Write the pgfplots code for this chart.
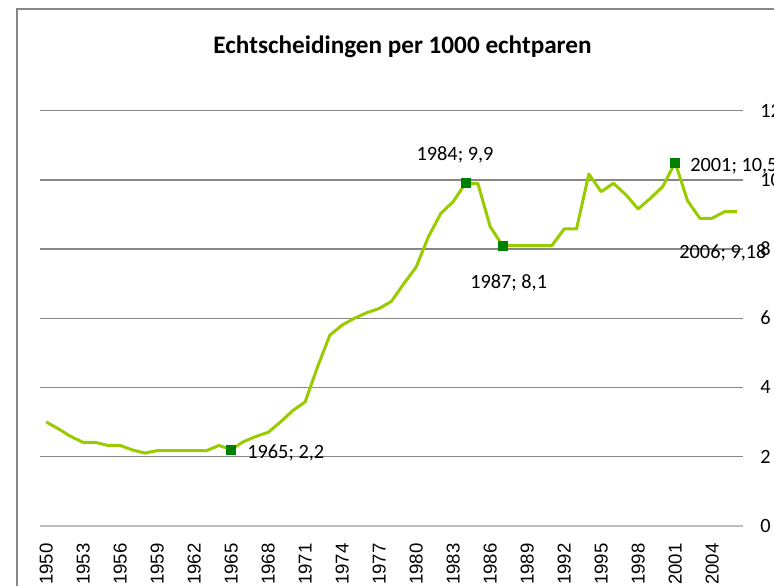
\documentclass[border=0pt]{standalone}
\usepackage{pgfplots}
\pgfplotsset{compat=1.18}
\usepackage{fontspec}
\setmainfont{Carlito}
\newfontfamily\arialfont{Liberation Sans}
\definecolor{linegreen}{RGB}{153,204,0}
\definecolor{markgreen}{RGB}{0,128,0}
\definecolor{gridgray}{RGB}{134,134,134}
\definecolor{zerogray}{RGB}{190,190,190}
\definecolor{framegray}{RGB}{134,134,134}
\begin{document}
\begin{tikzpicture}
\path[use as bounding box] (0,0) rectangle (387pt,292.5pt);
\clip (0,0) rectangle (387pt,292.5pt);
\draw[framegray, line width=0.9pt] (8.35pt,-10pt) -- (8.35pt,287.85pt) -- (420pt,287.85pt);
\node[anchor=base, font=\fontsize{12.6}{15}\selectfont\bfseries] at (201.25pt,265.85pt) {Echtscheidingen per 1000 echtparen};
\begin{axis}[
  at={(20pt,29.65pt)}, anchor=south west,
  scale only axis, width=351.5pt, height=207.5pt,
  xmin=1949.5, xmax=2006.5, ymin=0, ymax=12,
  axis line style={draw=none},
  major tick length=0pt,
  xtick={1950,1953,...,2004},
  ytick={2,4,...,12},
  extra y ticks={0},
  extra y tick style={grid style={color=zerogray, line width=1pt}},
  ymajorgrids,
  grid style={color=gridgray, line width=0.65pt},
  yticklabel pos=right,
  /pgf/number format/assume math mode=true,
  /pgf/number format/1000 sep={},
  tick label style={font=\fontsize{10.15}{12}\selectfont, inner sep=0pt},
  yticklabel style={anchor=west, xshift=8.5pt},
  xticklabel style={rotate=90, anchor=east, font=\arialfont\fontsize{9.3}{11}\selectfont},
  xticklabel shift=8.6pt,
  clip=false,
]
\addplot[color=linegreen, line width=1.5pt, line join=round, mark=none] coordinates {
(1950,3.0) (1951,2.8) (1952,2.58) (1953,2.41) (1954,2.41) (1955,2.32) (1956,2.32)
(1957,2.19) (1958,2.1) (1959,2.17) (1960,2.17) (1961,2.17) (1962,2.17) (1963,2.17)
(1964,2.32) (1965,2.2) (1966,2.43) (1967,2.58) (1968,2.7) (1969,3.0) (1970,3.33)
(1971,3.58) (1972,4.59) (1973,5.51) (1974,5.8) (1975,6.0) (1976,6.16) (1977,6.28)
(1978,6.49) (1979,7.0) (1980,7.48) (1981,8.36) (1982,9.03) (1983,9.37) (1984,9.9)
(1985,9.9) (1986,8.65) (1987,8.1) (1988,8.1) (1989,8.1) (1990,8.1) (1991,8.1)
(1992,8.58) (1993,8.58) (1994,10.17) (1995,9.66) (1996,9.9) (1997,9.57) (1998,9.16)
(1999,9.47) (2000,9.81) (2001,10.5) (2002,9.4) (2003,8.89) (2004,8.89) (2005,9.08)
(2006,9.08)
};
\addplot[only marks, mark=square*, mark size=2.25pt, color=markgreen] coordinates {
(1965,2.2) (1984,9.9) (1987,8.1) (2001,10.5)
};
\begin{scope}[every node/.style={font=\fontsize{10.15}{12}\selectfont, inner sep=0pt}]
\node[anchor=center] at (axis cs:1983.15,10.73) {1984; 9,9};
\node[anchor=center] at (axis cs:1987.5,7.03) {1987; 8,1};
\node[anchor=west] at (axis cs:1966.28,2.10) {1965; 2,2};
\node[anchor=west] at (axis cs:2002.2,10.40) {2001; 10,5};
\node[anchor=west] at (axis cs:2001.31,7.89) {2006; 9,18};
\end{scope}
\end{axis}
\end{tikzpicture}
\end{document}
